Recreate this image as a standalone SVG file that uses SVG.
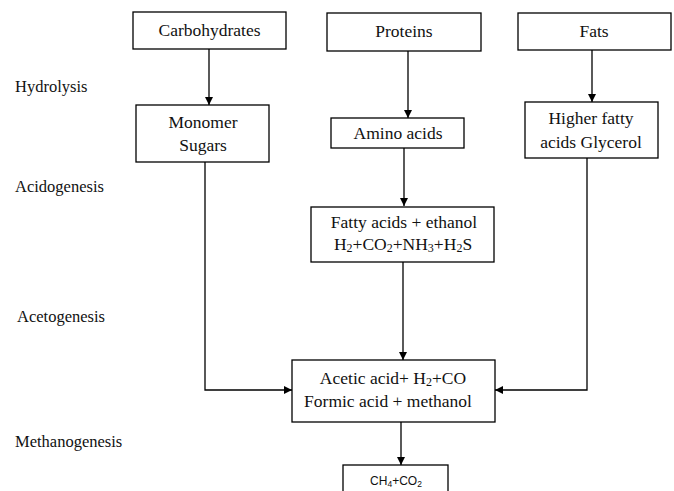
<svg xmlns="http://www.w3.org/2000/svg" width="674" height="491" viewBox="0 0 674 491">
<style>
.box{fill:#fff;stroke:#000;stroke-width:1.3}
.t{font-family:"Liberation Serif","Times New Roman",serif;font-size:17.5px;fill:#111;text-anchor:middle}
.lbl{font-family:"Liberation Serif","Times New Roman",serif;font-size:16.5px;fill:#111}
.sub{font-size:12px}
.c{fill:none;stroke:#000;stroke-width:1.3}
.s{font-family:"Liberation Sans",Arial,sans-serif;font-size:12px;fill:#111;text-anchor:middle}
</style>
<defs>
<marker id="ah" viewBox="0 0 10 10" refX="10" refY="5" markerWidth="8" markerHeight="8" markerUnits="userSpaceOnUse" orient="auto">
<path d="M0,0 L10,5 L0,10 z" fill="#000"/>
</marker>
</defs>
<rect width="674" height="491" fill="#fff"/>
<g id="labels">
<text class="lbl" x="15" y="92">Hydrolysis</text>
<text class="lbl" x="15" y="192">Acidogenesis</text>
<text class="lbl" x="17" y="322">Acetogenesis</text>
<text class="lbl" x="15" y="447">Methanogenesis</text>
</g>
<g id="connectors">
<path class="c" d="M209,49 V105" marker-end="url(#ah)"/>
<path class="c" d="M408,51 V118" marker-end="url(#ah)"/>
<path class="c" d="M592,50 V102" marker-end="url(#ah)"/>
<path class="c" d="M404,148 V206" marker-end="url(#ah)"/>
<path class="c" d="M403,262 V360" marker-end="url(#ah)"/>
<path class="c" d="M205,162 V390 H292" marker-end="url(#ah)"/>
<path class="c" d="M587,158 V390 H495" marker-end="url(#ah)"/>
<path class="c" d="M401,422 V465" marker-end="url(#ah)"/>
</g>
<g id="carbohydrates">
<rect class="box" x="133" y="12" width="153" height="37"/>
<text class="t" x="209.5" y="36">Carbohydrates</text>
</g>
<g id="proteins">
<rect class="box" x="327" y="13" width="154" height="38"/>
<text class="t" x="404" y="37">Proteins</text>
</g>
<g id="fats">
<rect class="box" x="518" y="13" width="153" height="37"/>
<text class="t" x="594" y="37">Fats</text>
</g>
<g id="monomer-sugars">
<rect class="box" x="136" y="105" width="133" height="57"/>
<text class="t" x="203" y="128">Monomer</text>
<text class="t" x="203" y="151">Sugars</text>
</g>
<g id="amino-acids">
<rect class="box" x="331" y="118" width="133" height="30"/>
<text class="t" x="398" y="139">Amino acids</text>
</g>
<g id="higher-fatty">
<rect class="box" x="525" y="102" width="133" height="56"/>
<text class="t" x="591" y="124">Higher fatty</text>
<text class="t" x="591" y="148">acids Glycerol</text>
</g>
<g id="fatty-acids">
<rect class="box" x="311" y="207" width="183" height="55"/>
<text class="t" x="404" y="228">Fatty acids + ethanol</text>
<text class="t" x="403" y="250">H<tspan class="sub" dy="2">2</tspan><tspan dy="-2">+CO</tspan><tspan class="sub" dy="2">2</tspan><tspan dy="-2">+NH</tspan><tspan class="sub" dy="2">3</tspan><tspan dy="-2">+H</tspan><tspan class="sub" dy="2">2</tspan><tspan dy="-2">S</tspan></text>
</g>
<g id="acetic-acid">
<rect class="box" x="292" y="360" width="203" height="62"/>
<text class="t" x="393" y="384">Acetic acid+ H<tspan class="sub" dy="2">2</tspan><tspan dy="-2">+CO</tspan></text>
<text class="t" x="388" y="407">Formic acid + methanol</text>
</g>
<g id="ch4-co2">
<rect class="box" x="343" y="465" width="105" height="40"/>
<text class="s" x="396" y="485">CH<tspan font-size="8.5" dy="2">4</tspan><tspan dy="-2">+CO</tspan><tspan font-size="8.5" dy="2">2</tspan></text>
</g>
</svg>
